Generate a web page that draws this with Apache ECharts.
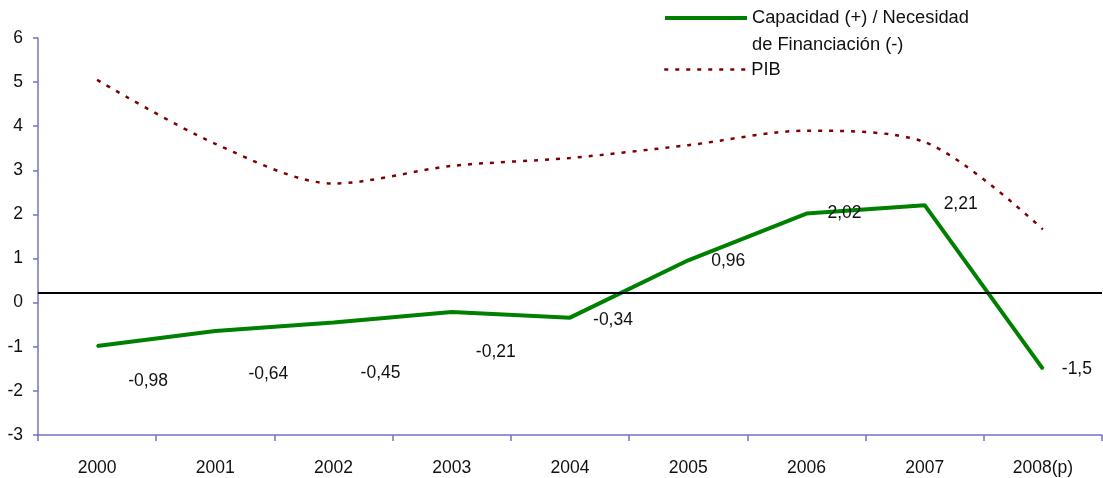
<!DOCTYPE html>
<html>
<head>
<meta charset="utf-8">
<script src="https://cdn.jsdelivr.net/npm/echarts@6/dist/echarts.min.js"></script>
<style>html,body{margin:0;padding:0;background:#fff}#c{width:1103px;height:478px}</style>
</head>
<body>
<div id="c"></div>
<script>
var categories = ['2000','2001','2002','2003','2004','2005','2006','2007','2008(p)'];
var capacidad = [-0.98,-0.64,-0.45,-0.21,-0.34,0.96,2.02,2.21,-1.5];
var pib = [5.05,3.6,2.7,3.1,3.28,3.57,3.9,3.64,1.66];
var capacidadLabels = ['-0,98','-0,64','-0,45','-0,21','-0,34','0,96','2,02','2,21','-1,5'];
var refLineValue = 0.22;
var yMin = -3, yMax = 6, yInterval = 1;
var seriesNames = ['Capacidad (+) / Necesidad\nde Financiación (-)', 'PIB'];

var labelOffsets = [[51,35],[53,43],[47,51],[44,40],[43,3],[40,1],[38,0],[36,-1],[34,0]];
var FONT = 'Liberation Sans';
var axisColor = '#7373c2';

var chart = echarts.init(document.getElementById('c'), null, {renderer:'canvas'});
chart.setOption({
  animation: false,
  backgroundColor: '#fff',
  grid: {left: 38, right: 1, top: 38, bottom: 43, containLabel: false},
  legend: [
    {
      orient: 'vertical', left: 663, top: -22.5, padding: 0,
      itemWidth: 82, itemHeight: 14,
      data: [{name: seriesNames[0], lineStyle: {width: 4}}],
      itemStyle: {opacity: 0},
      formatter: function(n){ return '\n' + n; },
      textStyle: {fontFamily: FONT, fontSize: 18.3, color: '#111', lineHeight: 27}
    },
    {
      orient: 'vertical', left: 663, top: 56, padding: 0,
      itemWidth: 82, itemHeight: 14,
      data: [{name: seriesNames[1], lineStyle: {width: 2.5}}],
      itemStyle: {opacity: 0},
      textStyle: {fontFamily: FONT, fontSize: 18.3, color: '#111', lineHeight: 27}
    }
  ],
  xAxis: {
    type: 'category',
    data: categories,
    boundaryGap: true,
    axisLine: {onZero: false, lineStyle: {color: axisColor, width: 1.5}},
    axisTick: {show: true, length: 6, inside: false, lineStyle: {color: axisColor, width: 1.5}},
    axisLabel: {fontFamily: FONT, fontSize: 17.5, color: '#111', margin: 24},
    splitLine: {show: false}
  },
  yAxis: {
    type: 'value',
    min: yMin, max: yMax, interval: yInterval,
    axisLine: {show: true, lineStyle: {color: axisColor, width: 1.5}},
    axisTick: {show: true, length: 5, lineStyle: {color: axisColor, width: 1.5}},
    axisLabel: {fontFamily: FONT, fontSize: 17.5, color: '#111', margin: 15},
    splitLine: {show: false}
  },
  series: [
    {
      name: seriesNames[0],
      type: 'line',
      data: capacidad,
      symbol: 'circle', symbolSize: 2, showSymbol: true,
      lineStyle: {color: '#008000', width: 4},
      itemStyle: {color: '#008000'},
      label: {
        show: true, position: 'inside', align: 'center', verticalAlign: 'middle',
        fontFamily: FONT, fontSize: 17.5, color: '#111',
        formatter: function(p){ return capacidadLabels[p.dataIndex]; }
      },
      labelLayout: function(p){
        var o = labelOffsets[p.dataIndex];
        return {dx: o[0], dy: o[1], hideOverlap: false};
      },
      markLine: {
        silent: true, symbol: 'none',
        label: {show: false},
        lineStyle: {color: '#000', width: 2, type: 'solid'},
        data: [{yAxis: refLineValue}]
      },
      z: 3
    },
    {
      name: seriesNames[1],
      type: 'line',
      data: pib,
      symbol: 'none',
      smooth: 0.3,
      lineStyle: {color: '#800000', width: 2.5, type: [4, 7]},
      itemStyle: {color: '#800000'},
      z: 2
    }
  ]
});
</script>
</body>
</html>
